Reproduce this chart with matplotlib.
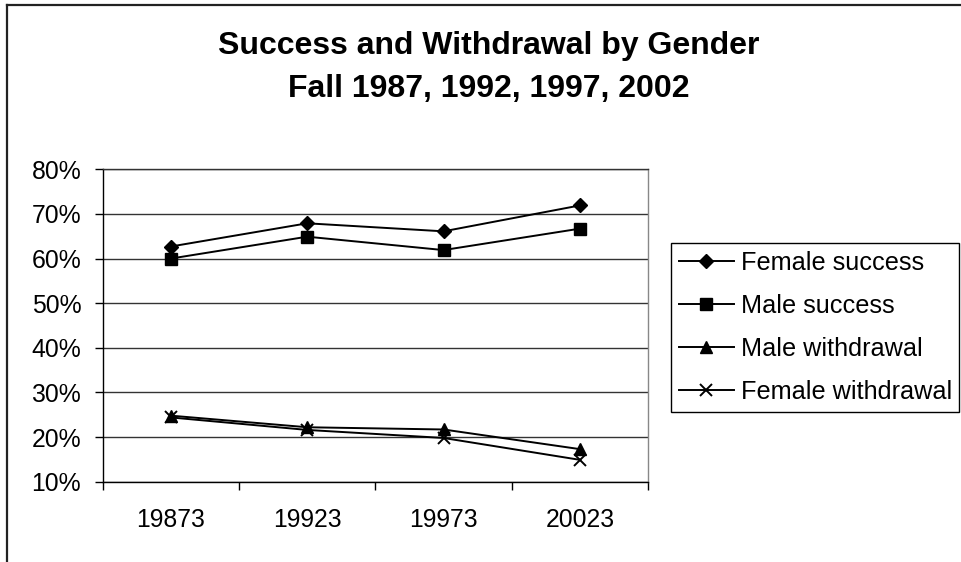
import matplotlib
matplotlib.use("Agg")
import matplotlib.pyplot as plt
from matplotlib.lines import Line2D
from matplotlib.ticker import FuncFormatter, FixedLocator

plt.rcParams["font.family"] = ["Liberation Sans", "DejaVu Sans"]

# data (percent)
years = ["19873", "19923", "19973", "20023"]
female_success = [62.7, 67.9, 66.1, 71.9]
male_success = [60.0, 64.9, 61.9, 66.7]
male_withdrawal = [24.8, 22.2, 21.7, 17.3]
female_withdrawal = [24.4, 21.6, 19.8, 14.9]

W, H = 961, 562
fig = plt.figure(figsize=(W / 100, H / 100), dpi=100)
ax = fig.add_axes([102.7 / W, 1 - 481.7 / H, (648 - 102.7) / W, (481.7 - 169.3) / H])

x = list(range(len(years)))
ax.plot(x, female_success, color="black", lw=1.4, marker="D", ms=7.5, label="Female success")
ax.plot(x, male_success, color="black", lw=1.4, marker="s", ms=8, label="Male success")
ax.plot(x, male_withdrawal, color="black", lw=1.4, marker="^", ms=8.5, label="Male withdrawal")
ax.plot(x, female_withdrawal, color="black", lw=1.4, marker="x", ms=8, mew=1.4, label="Female withdrawal")

ax.set_xlim(-0.5, 3.5)
ax.set_ylim(10, 80)
ax.set_yticks(range(10, 81, 10))
ax.yaxis.set_major_formatter(FuncFormatter(lambda v, p: "%d%%" % v))
ax.yaxis.grid(True, color="#333333", lw=1)
ax.set_axisbelow(True)

ax.xaxis.set_major_locator(FixedLocator([-0.5, 0.5, 1.5, 2.5, 3.5]))
ax.xaxis.set_major_formatter(FuncFormatter(lambda v, p: ""))
ax.xaxis.set_minor_locator(FixedLocator(x))
ax.set_xticklabels(years, minor=True)
ax.tick_params(axis="x", which="minor", length=0, pad=19, labelsize=17.8)
ax.tick_params(axis="x", which="major", length=5.5, width=1)
ax.tick_params(axis="y", length=5.5, width=1, pad=10, labelsize=17.8)

ax.spines["left"].set_color("black")
ax.spines["bottom"].set_color("black")
ax.spines["top"].set_color("#333333")
ax.spines["right"].set_color("#888888")
for s in ax.spines.values():
    s.set_linewidth(1)

fig.text(489 / W, 1 - 46 / H, "Success and Withdrawal by Gender",
         ha="center", va="center", fontsize=23, fontweight="bold")
fig.text(489 / W, 1 - 89 / H, "Fall 1987, 1992, 1997, 2002",
         ha="center", va="center", fontsize=23, fontweight="bold")

leg = ax.legend(loc="upper left", bbox_to_anchor=(671 / W, 1 - 243 / H),
                bbox_transform=fig.transFigure, fontsize=18.2, frameon=True,
                fancybox=False, edgecolor="black", framealpha=1,
                handlelength=2.2, handletextpad=0.25, borderpad=0.3,
                labelspacing=0.76, borderaxespad=0)
leg.get_frame().set_linewidth(1)

# outer chart border (only left and top visible)
fig.add_artist(Line2D([7 / W, 7 / W], [0, 1 - 5 / H], transform=fig.transFigure,
                      color="#222222", lw=1.6))
fig.add_artist(Line2D([7 / W, 1], [1 - 5 / H, 1 - 5 / H], transform=fig.transFigure,
                      color="#222222", lw=1.6))

fig.savefig("out.png", dpi=100)
